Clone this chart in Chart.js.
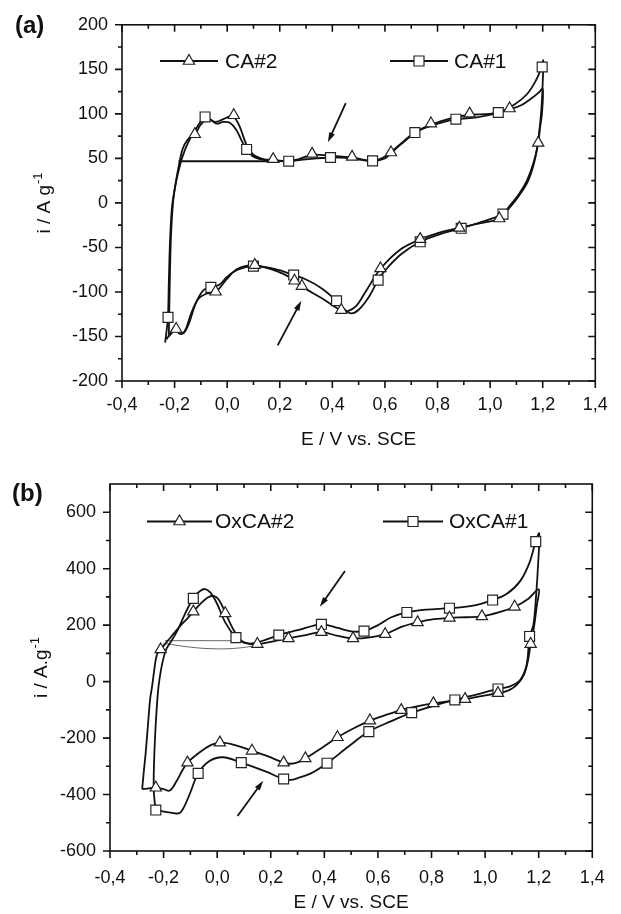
<!DOCTYPE html>
<html>
<head>
<meta charset="utf-8">
<script src="https://cdn.jsdelivr.net/npm/chart.js@4/dist/chart.umd.min.js"></script>
<style>
  body { margin: 0; background: #fff; }
  #wrap { position: relative; width: 621px; height: 914px; font-family: "Liberation Sans", Arial, sans-serif; color: #111; }
  canvas { position: absolute; left: 0; }
  .tag { position: absolute; font-weight: bold; font-size: 24px; line-height: 28px; }
</style>
</head>
<body>
<div id="wrap">
  <canvas id="chartA" width="621" height="457" style="top:0"></canvas>
  <canvas id="chartB" width="621" height="457" style="top:457px"></canvas>
  <div class="tag" style="left:15px;top:11px">(a)</div>
  <div class="tag" style="left:12px;top:479px">(b)</div>
</div>
<script>
// ---- axes ----
const eTicks = [-0.4, -0.2, 0, 0.2, 0.4, 0.6, 0.8, 1.0, 1.2, 1.4];
const eMinorTicks = [-0.3, -0.1, 0.1, 0.3, 0.5, 0.7, 0.9, 1.1, 1.3];
const iTicksA = [-200, -150, -100, -50, 0, 50, 100, 150, 200];
const iMinorA = [-175, -125, -75, -25, 25, 75, 125, 175];
const iTicksB = [-600, -400, -200, 0, 200, 400, 600];
const iMinorB = [-500, -300, -100, 100, 300, 500];

// ---- panel (a): CA#2 / CA#1, [E, i] ----
const ca2Line = [
  [-0.222,-150],[-0.219,-100],[-0.214,-40],[-0.206,0],[-0.196,22],[-0.185,40],[-0.17,60],[-0.15,71],
  [-0.123,77],[-0.1,88],[-0.075,94],[-0.045,91],[-0.015,94],[0.01,97],[0.03,95],[0.05,84],[0.075,64],
  [0.1,54],[0.14,49],[0.175,48.5],[0.22,47],[0.27,49],[0.323,54],[0.39,53],[0.475,51],[0.55,47],
  [0.6,50],[0.623,56],[0.67,68],[0.72,80],[0.775,88],[0.85,95],[0.922,99],[1.0,100],[1.074,105],
  [1.12,110],[1.16,118],[1.185,124],[1.2,128],[1.197,100],[1.19,85],[1.183,67],[1.165,45],[1.14,25],
  [1.11,10],[1.07,-5],[1.035,-17.5],[0.96,-23],[0.883,-28],[0.81,-33],[0.734,-41],[0.66,-52],
  [0.583,-74],[0.53,-98],[0.49,-116],[0.455,-122],[0.434,-121],[0.36,-107],[0.284,-94],[0.256,-87],
  [0.2,-78],[0.105,-70],[0.04,-74],[0.0,-85],[-0.044,-100],[-0.08,-102],[-0.11,-108],[-0.137,-124],
  [-0.155,-140],[-0.17,-147],[-0.185,-146],[-0.194,-142],[-0.21,-146],[-0.222,-150]
];
const ca2Marks = [
  [-0.194,-141.6],[-0.123,77.1],[0.025,98.4],[0.175,49.1],[0.323,55],[0.475,51.7],[0.623,56.6],
  [0.775,89.1],[0.922,100.3],[1.074,106],[1.183,67.4],[1.035,-17.5],[0.883,-28],[0.734,-40.7],
  [0.583,-73.6],[0.434,-120.3],[0.284,-93.4],[0.256,-87.4],[0.105,-69.8],[-0.044,-99.8]
];
const ca1Line = [
  [-0.236,-157],[-0.229,-140],[-0.225,-128.5],[-0.222,-90],[-0.217,-40],[-0.21,-5],[-0.2,15],
  [-0.188,32],[-0.17,52],[-0.145,70],[-0.115,85],[-0.084,96],[-0.06,93],[-0.04,89],[-0.015,91],
  [0.01,90],[0.035,82],[0.055,70],[0.074,60],[0.1,52],[0.15,48],[0.234,46.8],[0.3,49],[0.393,51],
  [0.47,50],[0.553,47.2],[0.6,52],[0.65,64],[0.714,79],[0.78,87],[0.87,94],[0.95,96],[1.031,101.5],
  [1.09,110],[1.14,122],[1.175,138],[1.195,152],[1.202,160],[1.2,135],[1.195,105],[1.185,75],
  [1.17,48],[1.145,25],[1.11,8],[1.075,-5],[1.049,-12.6],[0.96,-22],[0.89,-28.5],[0.81,-35],
  [0.734,-43.7],[0.66,-58],[0.6,-76],[0.574,-86.7],[0.54,-105],[0.5,-120],[0.47,-124],[0.44,-118],
  [0.416,-110],[0.36,-96],[0.3,-86],[0.253,-81],[0.18,-74],[0.1,-71],[0.04,-75],[0.0,-83],
  [-0.03,-92],[-0.062,-95],[-0.09,-98],[-0.12,-113],[-0.145,-135],[-0.165,-146],[-0.18,-145],
  [-0.2,-140],[-0.215,-146],[-0.23,-153]
];
const ca1Marks = [
  [-0.225,-128.5],[-0.084,96.5],[0.074,60],[0.234,46.8],[0.393,51],[0.553,47.2],[0.714,79],
  [0.87,94],[1.031,101.5],[1.198,152.6],[1.049,-12.6],[0.89,-28.5],[0.734,-43.7],[0.574,-86.7],
  [0.416,-109.9],[0.253,-81],[0.1,-71],[-0.062,-94.9]
];
const caJoin = [[-0.185,46.8],[0.2,46.8]];
const caArrows = [[0.451,112,0.383,68],[0.192,-160,0.282,-110]];

// ---- panel (b): OxCA#2 / OxCA#1 ----
const ox2Line = [
  [-0.28,-381],[-0.274,-320],[-0.267,-254],[-0.258,-150],[-0.25,-60],[-0.243,-18],[-0.235,40],
  [-0.225,95],[-0.211,114],[-0.18,150],[-0.14,195],[-0.11,225],[-0.089,248],[-0.06,278],
  [-0.035,298],[-0.014,304],[0.005,292],[0.03,245],[0.06,185],[0.09,145],[0.12,134],[0.15,133],
  [0.2,141],[0.266,153],[0.33,165],[0.389,175],[0.45,162],[0.507,153],[0.57,157],[0.627,168],
  [0.69,195],[0.748,210],[0.81,221],[0.867,226],[0.93,228],[0.988,231],[1.05,245],[1.11,265],
  [1.16,293],[1.2,327],[1.193,270],[1.185,210],[1.175,150],[1.17,133],[1.16,75],[1.145,25],
  [1.12,-10],[1.09,-30],[1.048,-41],[0.98,-52],[0.925,-62],[0.867,-69],[0.807,-77],[0.75,-87],
  [0.687,-101],[0.63,-118],[0.57,-138],[0.51,-165],[0.449,-197],[0.39,-235],[0.329,-272],
  [0.3,-286],[0.275,-291],[0.248,-287],[0.19,-265],[0.13,-245],[0.07,-226],[0.02,-216],
  [-0.02,-223],[-0.06,-247],[-0.111,-287],[-0.129,-313],[-0.153,-355],[-0.177,-386],[-0.2,-381],
  [-0.229,-376],[-0.26,-379],[-0.28,-381]
];
const ox2Marks = [
  [-0.211,114],[-0.089,248],[0.03,242],[0.15,133],[0.266,153],[0.389,175],[0.507,153],[0.627,168],
  [0.748,210],[0.867,226],[0.988,231],[1.11,265],[1.17,133],[1.048,-41],[0.925,-62],[0.807,-77],
  [0.687,-101],[0.57,-138],[0.449,-197],[0.329,-272],[0.248,-287],[0.13,-245],[0.01,-216],
  [-0.111,-287],[-0.229,-376]
];
const ox1Line = [
  [-0.229,-455],[-0.234,-420],[-0.237,-378],[-0.236,-300],[-0.232,-200],[-0.226,-100],[-0.219,-18],
  [-0.21,40],[-0.2,85],[-0.19,115],[-0.177,135],[-0.15,178],[-0.12,240],[-0.089,295],[-0.065,320],
  [-0.045,328],[-0.025,315],[0.0,275],[0.03,210],[0.07,156],[0.1,138],[0.13,135],[0.18,148],
  [0.23,165],[0.3,182],[0.389,203],[0.45,190],[0.5,178],[0.548,179],[0.6,200],[0.65,228],
  [0.708,245],[0.78,255],[0.867,260],[0.95,268],[1.028,289],[1.08,310],[1.13,355],[1.165,420],
  [1.189,496],[1.202,525],[1.198,420],[1.19,300],[1.18,200],[1.166,160],[1.155,60],[1.13,5],
  [1.09,-18],[1.048,-26],[0.97,-45],[0.887,-65],[0.81,-85],[0.726,-110],[0.65,-140],[0.566,-177],
  [0.49,-230],[0.41,-289],[0.35,-325],[0.3,-342],[0.275,-348],[0.248,-345],[0.18,-318],[0.09,-287],
  [0.022,-268],[-0.03,-282],[-0.071,-325],[-0.1,-392],[-0.123,-443],[-0.141,-466],[-0.18,-463],
  [-0.229,-455]
];
const ox1Marks = [
  [-0.229,-455],[-0.089,295],[0.07,156],[0.23,165],[0.389,203],[0.548,179],[0.708,245],[0.867,260],
  [1.028,289],[1.189,496],[1.166,160],[1.048,-26],[0.887,-65],[0.726,-110],[0.566,-177],[0.41,-289],
  [0.248,-345],[0.09,-287],[-0.071,-325]
];
const oxJoinFlat = [[-0.195,145],[0.07,145]];
const oxJoinArc = [[-0.2,136],[-0.1,122],[0.0,116],[0.08,119],[0.15,128]];
const oxArrows = [[0.477,392,0.383,265],[0.076,-476,0.172,-351]];

const FONT = '"Liberation Sans", Arial, sans-serif';
const toXY = arr => arr.map(p => ({x: p[0], y: p[1]}));
const near = (list, v) => list.some(m => Math.abs(m - v) < 1e-6);

function lineSet(data, width, color, tension) {
  return {
    data: toXY(data), showLine: true, borderColor: color, borderWidth: width,
    pointRadius: 0, pointHoverRadius: 0, tension: tension, order: 2
  };
}
function markSet(data, style, radius) {
  return {
    data: toXY(data), showLine: false, pointStyle: style, pointRadius: radius,
    pointBackgroundColor: '#fff', pointBorderColor: '#222', pointBorderWidth: 1.2, order: 0
  };
}

function drawMark(ctx, style, x, y) {
  ctx.beginPath();
  if (style === 'triangle') {
    const r = 6.5;
    ctx.moveTo(x, y - r);
    ctx.lineTo(x + r * 0.866, y + r * 0.5);
    ctx.lineTo(x - r * 0.866, y + r * 0.5);
    ctx.closePath();
  } else {
    ctx.rect(x - 5, y - 5, 10, 10);
  }
  ctx.fillStyle = '#fff';
  ctx.fill();
  ctx.lineWidth = 1.2;
  ctx.strokeStyle = '#222';
  ctx.stroke();
}

// frame with ticks on four sides, legend, arrows and y title
const decor = {
  id: 'decor',
  afterDraw(chart, args, o) {
    const {ctx, chartArea: a, scales: {x, y}} = chart;
    ctx.save();
    ctx.strokeStyle = '#111';
    ctx.lineWidth = 1.6;
    ctx.strokeRect(a.left, a.top, a.right - a.left, a.bottom - a.top);
    ctx.beginPath();
    x.ticks.forEach(t => {
      const px = x.getPixelForValue(t.value);
      const len = near(eTicks, t.value) ? 7 : 4;
      ctx.moveTo(px, a.bottom); ctx.lineTo(px, a.bottom + len);
      ctx.moveTo(px, a.top); ctx.lineTo(px, a.top + len);
    });
    y.ticks.forEach(t => {
      const py = y.getPixelForValue(t.value);
      const len = near(o.yMajor, t.value) ? 7 : 4;
      ctx.moveTo(a.left, py); ctx.lineTo(a.left - len, py);
      ctx.moveTo(a.right, py); ctx.lineTo(a.right - len, py);
    });
    ctx.stroke();

    // arrows
    ctx.lineWidth = 1.8;
    ctx.fillStyle = '#111';
    o.arrows.forEach(r => {
      const x0 = x.getPixelForValue(r[0]), y0 = y.getPixelForValue(r[1]);
      const x1 = x.getPixelForValue(r[2]), y1 = y.getPixelForValue(r[3]);
      const ang = Math.atan2(y1 - y0, x1 - x0);
      ctx.beginPath();
      ctx.moveTo(x0, y0);
      ctx.lineTo(x1 - 6 * Math.cos(ang), y1 - 6 * Math.sin(ang));
      ctx.stroke();
      ctx.beginPath();
      ctx.moveTo(x1, y1);
      ctx.lineTo(x1 - 10 * Math.cos(ang) + 3 * Math.sin(ang), y1 - 10 * Math.sin(ang) - 3 * Math.cos(ang));
      ctx.lineTo(x1 - 10 * Math.cos(ang) - 3 * Math.sin(ang), y1 - 10 * Math.sin(ang) + 3 * Math.cos(ang));
      ctx.closePath();
      ctx.fill();
    });

    // legend
    o.legend.forEach(it => {
      ctx.beginPath();
      ctx.lineWidth = 1.8;
      ctx.strokeStyle = '#111';
      ctx.moveTo(it.x0, o.legendY);
      ctx.lineTo(it.x1, o.legendY);
      ctx.stroke();
      drawMark(ctx, it.style, (it.x0 + it.x1) / 2, o.legendY);
      ctx.fillStyle = '#111';
      ctx.font = '21px ' + FONT;
      ctx.textAlign = 'left';
      ctx.textBaseline = 'middle';
      ctx.fillText(it.text, it.tx, o.legendY + 1);
    });

    // y title with superscript
    const t = o.yTitle;
    ctx.translate(t.x, t.y);
    ctx.rotate(-Math.PI / 2);
    ctx.fillStyle = '#111';
    ctx.textAlign = 'left';
    ctx.textBaseline = 'middle';
    ctx.font = '19px ' + FONT;
    const w1 = ctx.measureText(t.base).width;
    ctx.font = '13px ' + FONT;
    const w2 = ctx.measureText(t.sup).width;
    const start = -(w1 + w2 + 1) / 2;
    ctx.font = '19px ' + FONT;
    ctx.fillText(t.base, start, 0);
    ctx.font = '13px ' + FONT;
    ctx.fillText(t.sup, start + w1 + 1, -7);
    ctx.restore();
  }
};

function makeChart(id, cfg) {
  const yAll = cfg.yMajor.concat(cfg.yMinor);
  return new Chart(document.getElementById(id), {
    type: 'scatter',
    data: {datasets: cfg.datasets},
    plugins: [decor],
    options: {
      responsive: false,
      animation: false,
      layout: {padding: {top: cfg.top, right: 13, left: 0, bottom: 0}},
      plugins: {
        legend: {display: false},
        tooltip: {enabled: false},
        decor: {yMajor: cfg.yMajor, arrows: cfg.arrows, legend: cfg.legend, legendY: cfg.legendY, yTitle: cfg.yTitle}
      },
      scales: {
        x: {
          type: 'linear', min: -0.4, max: 1.4,
          afterBuildTicks: s => { s.ticks = eTicks.concat(eMinorTicks).sort((p, q) => p - q).map(v => ({value: v})); },
          afterFit: s => { s.height = cfg.xHeight; },
          grid: {display: false, drawTicks: false},
          border: {display: false},
          ticks: {
            autoSkip: false, maxRotation: 0, minRotation: 0, padding: cfg.xPad, color: '#111',
            font: {family: FONT, size: 18},
            callback: v => near(eTicks, v) ? v.toFixed(1).replace('.', ',') : ''
          },
          title: {display: true, text: 'E / V vs. SCE', color: '#111', font: {family: FONT, size: 19},
                  padding: {top: 0, bottom: cfg.titlePad}}
        },
        y: {
          type: 'linear', min: cfg.yMin, max: cfg.yMax,
          afterBuildTicks: s => { s.ticks = yAll.slice().sort((p, q) => p - q).map(v => ({value: v})); },
          afterFit: s => { s.width = cfg.yWidth; },
          grid: {display: false, drawTicks: false},
          border: {display: false},
          ticks: {
            autoSkip: false, padding: 14, color: '#111',
            font: {family: FONT, size: 18},
            callback: v => near(cfg.yMajor, v) ? String(v) : ''
          }
        }
      }
    }
  });
}

makeChart('chartA', {
  top: 24.5, xHeight: 76, yWidth: 122, xPad: 13.2, titlePad: 5.6,
  yMin: -200, yMax: 200, yMajor: iTicksA, yMinor: iMinorA,
  arrows: caArrows,
  legendY: 61,
  legend: [
    {style: 'triangle', x0: 160, x1: 218, tx: 225, text: 'CA#2'},
    {style: 'rect', x0: 390, x1: 448, tx: 454, text: 'CA#1'}
  ],
  yTitle: {x: 45, y: 203, base: 'i / A g', sup: '-1'},
  datasets: [
    markSet(ca2Marks, 'triangle', 6.5),
    markSet(ca1Marks, 'rect', 7),
    lineSet(ca2Line, 1.8, '#111', 0.35),
    lineSet(ca1Line, 1.8, '#111', 0.35),
    lineSet(caJoin, 2, '#111', 0)
  ]
});

makeChart('chartB', {
  top: 27, xHeight: 63, yWidth: 110, xPad: 16.2, titlePad: 0,
  yMin: -600, yMax: 700, yMajor: iTicksB, yMinor: iMinorB,
  arrows: oxArrows,
  legendY: 64.5,
  legend: [
    {style: 'triangle', x0: 147, x1: 212, tx: 215, text: 'OxCA#2'},
    {style: 'rect', x0: 383, x1: 443, tx: 449, text: 'OxCA#1'}
  ],
  yTitle: {x: 42, y: 210.5, base: 'i / A.g', sup: '-1'},
  datasets: [
    markSet(ox2Marks, 'triangle', 6.5),
    markSet(ox1Marks, 'rect', 7),
    lineSet(ox2Line, 1.8, '#111', 0.35),
    lineSet(ox1Line, 1.8, '#111', 0.35),
    lineSet(oxJoinFlat, 1, '#666', 0),
    lineSet(oxJoinArc, 1, '#666', 0.4)
  ]
});
</script>
</body>
</html>
